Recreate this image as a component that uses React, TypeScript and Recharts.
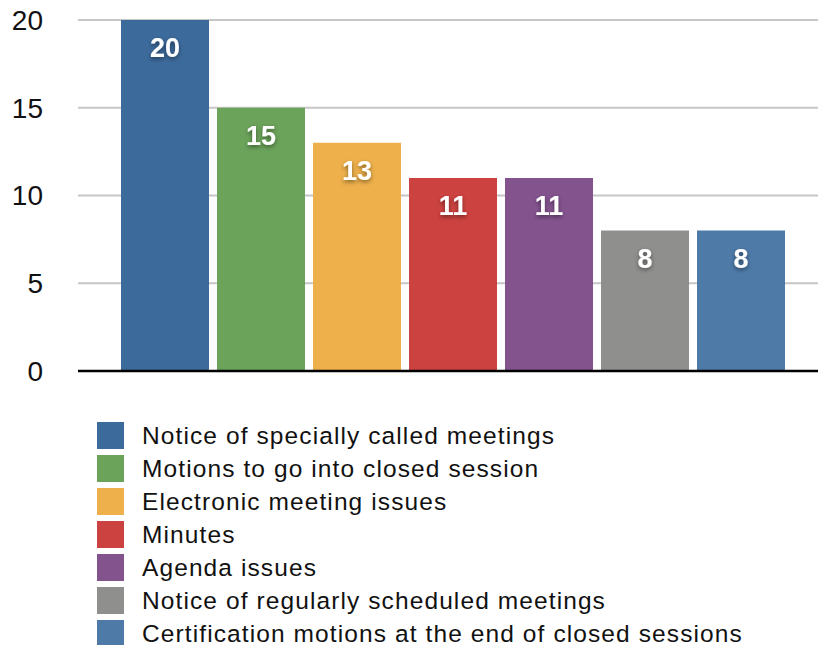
import React from 'react';
import { BarChart, Bar, XAxis, YAxis, CartesianGrid, Legend, LabelList, ReferenceLine } from 'recharts';

const seriesKeys = ['s1', 's2', 's3', 's4', 's5', 's6', 's7'];
const seriesNames = [
  'Notice of specially called meetings',
  'Motions to go into closed session',
  'Electronic meeting issues',
  'Minutes',
  'Agenda issues',
  'Notice of regularly scheduled meetings',
  'Certification motions at the end of closed sessions',
];
const seriesValues = [20, 15, 13, 11, 11, 8, 8];
const seriesColors = ['#3c6a9b', '#6ba35a', '#edb04b', '#cc4240', '#83538e', '#8f908e', '#4e7aa8'];
const yTicks = [0, 5, 10, 15, 20];
const gridValues = [5, 10, 15, 20];

const row: Record<string, string | number> = { name: '' };
seriesKeys.forEach((k, i) => {
  row[k] = seriesValues[i];
});
const data = [row];

const FONT = '"Liberation Sans", Arial, Helvetica, sans-serif';

const renderValueLabel = (props: any) => {
  const { x, y, width, value } = props;
  return (
    <text
      x={Number(x) + Number(width) / 2}
      y={Number(y) + 37}
      textAnchor="middle"
      fill="#ffffff"
      fontFamily={FONT}
      fontWeight="bold"
      fontSize={27}
      filter="url(#labelShadow)"
    >
      {value}
    </text>
  );
};

const renderLegend = (props: any) => {
  const payload = [...(props.payload || [])].sort(
    (a: any, b: any) => seriesNames.indexOf(a.value) - seriesNames.indexOf(b.value)
  );
  return (
    <div style={{ fontFamily: FONT }}>
      {payload.map((entry: any, i: number) => (
        <div key={i} style={{ display: 'flex', alignItems: 'center', height: 33 }}>
          <div style={{ width: 27, height: 27, background: entry.color, marginRight: 18, flexShrink: 0 }} />
          <span style={{ fontSize: 24.5, letterSpacing: 1.1, color: '#111', whiteSpace: 'nowrap' }}>{entry.value}</span>
        </div>
      ))}
    </div>
  );
};

export default function App() {
  return (
    <div style={{ position: 'absolute', left: 0, top: 0, background: '#fff' }}>
      <BarChart
        width={818}
        height={645}
        data={data}
        margin={{ top: 20, right: 0, bottom: 273, left: 0 }}
        barGap={8}
        barSize={88}
      >
        <defs>
          <filter id="labelShadow" x="-50%" y="-50%" width="200%" height="200%">
            <feDropShadow dx="0" dy="2" stdDeviation="2" floodColor="#000" floodOpacity="0.45" />
          </filter>
        </defs>
        <CartesianGrid vertical={false} horizontalValues={gridValues} stroke="#c6c6c6" strokeWidth={2} />
        <XAxis
          dataKey="name"
          height={1}
          tick={false}
          tickLine={false}
          axisLine={false}
          padding={{ left: 10, right: 0 }}
        />
        <YAxis
          width={78}
          domain={[0, 20]}
          ticks={yTicks}
          axisLine={false}
          tickLine={false}
          tickSize={0}
          tickMargin={35}
          tick={{ fill: '#111', fontSize: 28, fontFamily: FONT }}
        />
        <Legend
          layout="horizontal"
          verticalAlign="middle"
          align="center"
          content={renderLegend}
          wrapperStyle={{ top: 419, left: 97, width: 715, height: 231 }}
        />
        {seriesKeys.map((k, i) => (
          <Bar key={k} dataKey={k} name={seriesNames[i]} fill={seriesColors[i]} isAnimationActive={false}>
            <LabelList dataKey={k} content={renderValueLabel} />
          </Bar>
        ))}
        <ReferenceLine y={0} stroke="#000" strokeWidth={2.5} />
      </BarChart>
    </div>
  );
}
